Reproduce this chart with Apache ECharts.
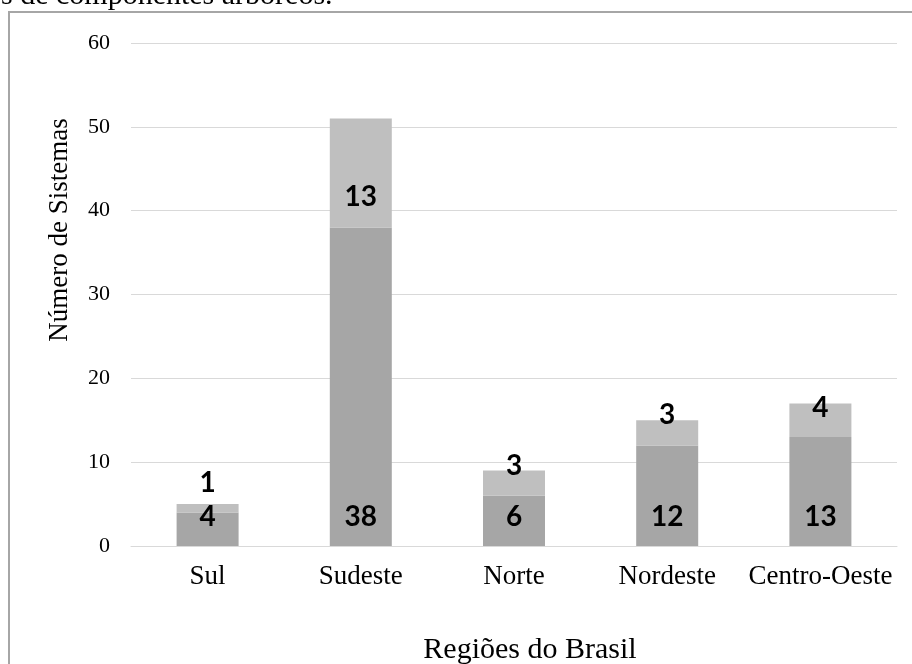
<!DOCTYPE html>
<html>
<head>
<meta charset="utf-8">
<script src="https://cdn.jsdelivr.net/npm/echarts@6/dist/echarts.min.js"></script>
<style>
  html, body { margin: 0; padding: 0; background: #fff; }
  #chart { width: 912px; height: 664px; }
</style>
</head>
<body>
<div id="chart"></div>
<script>
  // dados
  var regioes = ['Sul', 'Sudeste', 'Norte', 'Nordeste', 'Centro-Oeste'];
  var serieBase = [4, 38, 6, 12, 13];
  var serieTopo = [1, 13, 3, 3, 4];
  var yTicks = [0, 10, 20, 30, 40, 50, 60];

  // ajuste manual dos rótulos da serie de cima (como no original)
  var distTopo = [7, null, -9, -9, -18];

  var chart = echarts.init(document.getElementById('chart'));

  var labelFont = {
    fontFamily: 'Lato',
    fontWeight: 'bold',
    fontSize: 28,
    color: '#000'
  };

  var topoData = serieTopo.map(function (v, i) {
    if (distTopo[i] === null) {
      return { value: v, label: { position: 'inside', offset: [0, 24] } };
    }
    return { value: v, label: { position: 'top', distance: distTopo[i] } };
  });

  chart.setOption({
    animation: false,
    color: ['#A6A6A6', '#BFBFBF'],
    grid: { left: 131, right: 15, top: 43, bottom: 118 },
    xAxis: {
      type: 'category',
      data: regioes,
      axisLine: { lineStyle: { color: '#D9D9D9', width: 1 } },
      axisTick: { show: false },
      axisLabel: {
        interval: 0,
        fontFamily: 'Liberation Serif',
        fontSize: 27,
        color: '#000',
        margin: 17
      }
    },
    yAxis: {
      type: 'value',
      min: yTicks[0],
      max: yTicks[yTicks.length - 1],
      interval: 10,
      axisLine: { show: false },
      axisTick: { show: false },
      splitLine: { lineStyle: { color: '#D9D9D9', width: 1 } },
      axisLabel: {
        fontFamily: 'Liberation Serif',
        fontSize: 22,
        color: '#000',
        margin: 21
      }
    },
    graphic: [
      {
        type: 'rect',
        shape: { x: 9, y: 12, width: 940, height: 700 },
        style: { fill: 'none', stroke: '#A6A6A6', lineWidth: 2 },
        silent: true
      },
      {
        type: 'text',
        x: 1,
        y: -4,
        style: {
          text: 's de componentes arbóreos.',
          font: '30px "Liberation Serif"',
          fill: '#000',
          textVerticalAlign: 'middle'
        }
      },
      {
        type: 'text',
        x: 60,
        y: 230,
        rotation: Math.PI / 2,
        style: {
          text: 'Número de Sistemas',
          font: '27px "Liberation Serif"',
          fill: '#000',
          textAlign: 'center',
          textVerticalAlign: 'middle'
        }
      },
      {
        type: 'text',
        x: 530,
        y: 650,
        style: {
          text: 'Regiões do Brasil',
          font: '30px "Liberation Serif"',
          fill: '#000',
          textAlign: 'center',
          textVerticalAlign: 'middle'
        }
      }
    ],
    series: [
      {
        type: 'bar',
        stack: 'total',
        barWidth: 62,
        data: serieBase,
        label: Object.assign({ show: true, position: 'insideBottom', distance: 15 }, labelFont)
      },
      {
        type: 'bar',
        stack: 'total',
        barWidth: 62,
        data: topoData,
        label: Object.assign({ show: true }, labelFont)
      }
    ]
  });
</script>
</body>
</html>
